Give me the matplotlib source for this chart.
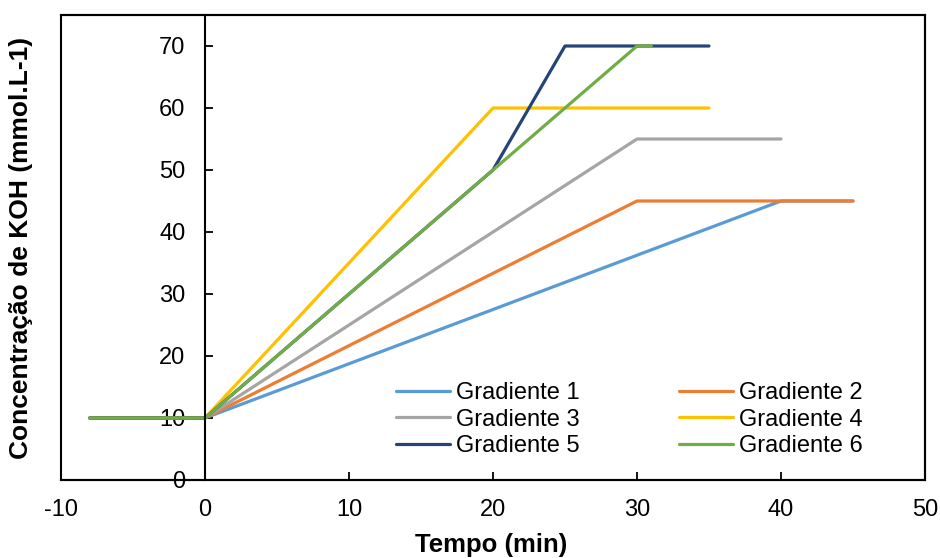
import matplotlib.pyplot as plt
from matplotlib.patches import Rectangle

plt.rcParams["font.family"] = ["Liberation Sans", "DejaVu Sans"]
plt.rcParams["axes.unicode_minus"] = False

# gradient programs: time (min) vs KOH concentration (mmol/L)
g1_t = [-8, 0, 40, 45]
g1_c = [10, 10, 45, 45]
g2_t = [-8, 0, 30, 45]
g2_c = [10, 10, 45, 45]
g3_t = [-8, 0, 30, 40]
g3_c = [10, 10, 55, 55]
g4_t = [-8, 0, 20, 35]
g4_c = [10, 10, 60, 60]
g5_t = [-8, 0, 20, 25, 35]
g5_c = [10, 10, 50, 70, 70]
g6_t = [-8, 0, 30, 31]
g6_c = [10, 10, 70, 70]

series = [
    ("Gradiente 1", g1_t, g1_c, "#5B9BD5"),
    ("Gradiente 2", g2_t, g2_c, "#ED7D31"),
    ("Gradiente 3", g3_t, g3_c, "#A5A5A5"),
    ("Gradiente 4", g4_t, g4_c, "#FFC000"),
    ("Gradiente 5", g5_t, g5_c, "#264478"),
    ("Gradiente 6", g6_t, g6_c, "#70AD47"),
]

W, H = 940, 558
fig = plt.figure(figsize=(9.4, 5.58), dpi=100)
ax = fig.add_axes([61 / W, 1 - 480 / H, (925 - 61) / W, (480 - 15) / H])

handles = {}
for name, t, c, col in series:
    (ln,) = ax.plot(t, c, color=col, lw=2.3, label=name, solid_capstyle="round")
    handles[name] = ln

ax.set_xlim(-10, 50)
ax.set_ylim(0, 75)
ax.set_xticks(range(-10, 51, 10))
ax.set_yticks(range(0, 71, 10))
ax.spines["left"].set_position(("data", 0))
for s in ax.spines.values():
    s.set_linewidth(1.5)
ax.add_patch(Rectangle((0, 0), 1, 1, transform=ax.transAxes, fill=False,
                       edgecolor="black", lw=1.5, clip_on=False, zorder=5))
ax.tick_params(axis="both", direction="in", length=6, width=1.3, labelsize=17)
ax.tick_params(axis="x", pad=14)
ax.tick_params(axis="y", pad=14)

order = ["Gradiente 1", "Gradiente 3", "Gradiente 5", "Gradiente 2", "Gradiente 4", "Gradiente 6"]
ax.legend([handles[n] for n in order], order, ncol=2, frameon=False, fontsize=17,
          loc="upper left", bbox_to_anchor=((396 - 61) / 864, (480 - 382) / 465),
          borderpad=0, borderaxespad=0, handlelength=2.3, handletextpad=0.25,
          columnspacing=4.2, labelspacing=0.2)

fig.text(491 / W, 1 - 545 / H, "Tempo (min)", ha="center", va="center", fontsize=18.5, fontweight="bold")
fig.text(21 / W, 1 - 248 / H, "Concentração de KOH (mmol.L-1)", ha="center", va="center",
         rotation=90, fontsize=19, fontweight="bold")

fig.savefig("out.png", dpi=100, facecolor="white")
